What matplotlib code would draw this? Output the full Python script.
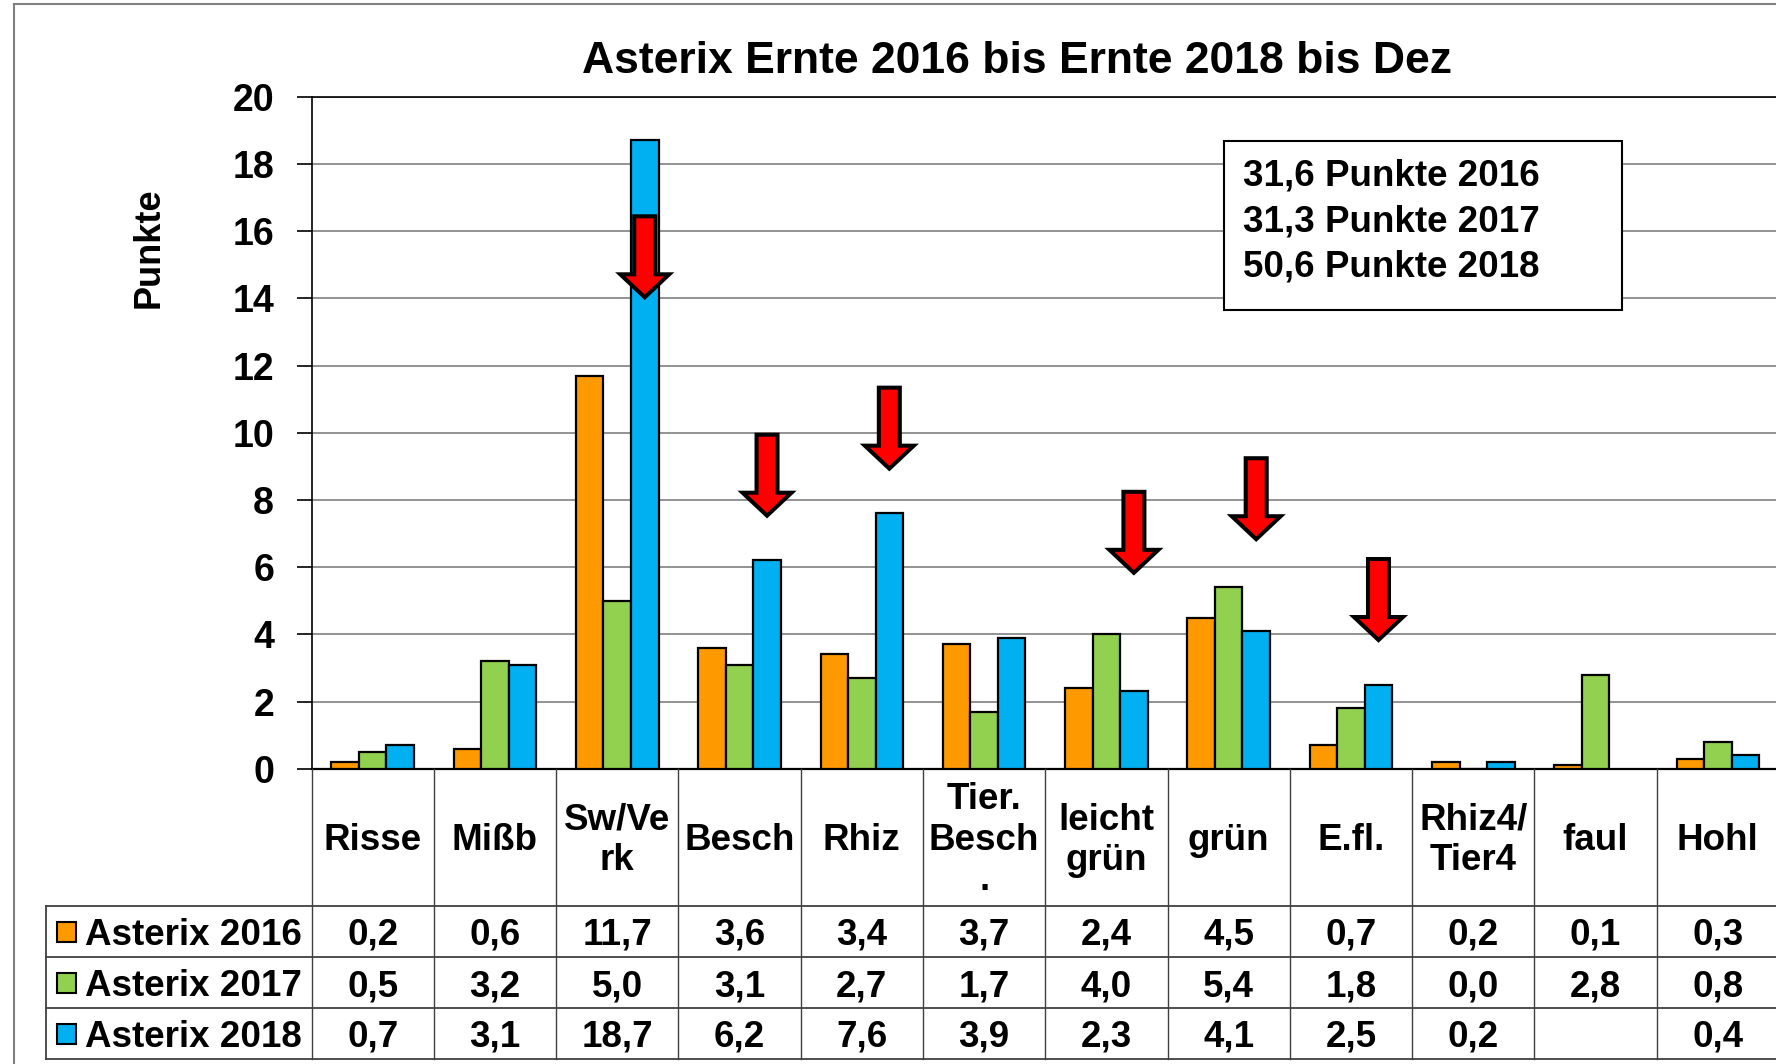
import matplotlib
matplotlib.use("Agg")
import matplotlib.pyplot as plt
from matplotlib.patches import Rectangle, Polygon
from matplotlib.lines import Line2D

# ---------------- data ----------------
categories = ["Risse", "Mißb", "Sw/Ve\nrk", "Besch", "Rhiz", "Tier.\nBesch\n.",
              "leicht\ngrün", "grün", "E.fl.", "Rhiz4/\nTier4", "faul", "Hohl"]
series_names = ["Asterix 2016", "Asterix 2017", "Asterix 2018"]
v2016 = [0.2, 0.6, 11.7, 3.6, 3.4, 3.7, 2.4, 4.5, 0.7, 0.2, 0.1, 0.3]
v2017 = [0.5, 3.2, 5.0, 3.1, 2.7, 1.7, 4.0, 5.4, 1.8, 0.0, 2.8, 0.8]
v2018 = [0.7, 3.1, 18.7, 6.2, 7.6, 3.9, 2.3, 4.1, 2.5, 0.2, None, 0.4]
series_colors = ["#FF9900", "#92D050", "#00B0F0"]
totals = [31.6, 31.3, 50.6]
total_years = [2016, 2017, 2018]
arrow_idx = [2, 3, 4, 6, 7, 8]
arrow_top = [16.5, 10.0, 11.4, 8.3, 9.3, 6.3]
yticks = list(range(0, 21, 2))
title = "Asterix Ernte 2016 bis Ernte 2018 bis Dez"
ylabel = "Punkte"

plt.rcParams['font.family'] = ['Liberation Sans', 'DejaVu Sans']
plt.rcParams['font.weight'] = 'bold'

W, H = 1776, 1064
fig = plt.figure(figsize=(W / 100, H / 100), dpi=100)
fig.patch.set_facecolor('white')

def fx(p):
    return p / W

def fy(p):
    return 1 - p / H

AX_L, AX_R, AX_T, AX_B = 311.5, 1779.0, 96.7, 768.7
ax = fig.add_axes([fx(AX_L), fy(AX_B), (AX_R - AX_L) / W, (AX_B - AX_T) / H])
ncat = len(categories)
pxu = (AX_R - AX_L) / ncat        # pixels per category unit
pyu = (AX_B - AX_T) / 20.0        # pixels per y unit

all_series = [v2016, v2017, v2018]
bw = 0.225
offsets = [-bw, 0.0, bw]
for vals, col, off in zip(all_series, series_colors, offsets):
    xs = [i + off for i, v in enumerate(vals) if v is not None]
    hs = [v for v in vals if v is not None]
    ax.bar(xs, hs, width=bw, color=col, edgecolor='black', linewidth=1.6, zorder=3)

ax.set_xlim(-0.5, ncat - 0.5)
ax.set_ylim(0, 20)
ax.set_yticks(yticks)
ax.set_xticks([])
ax.yaxis.grid(True, color='#808080', linewidth=1.2)
ax.set_axisbelow(True)
ax.spines['right'].set_visible(False)
ax.spines['left'].set_linewidth(1.2)
ax.spines['top'].set_linewidth(1.2)
ax.spines['bottom'].set_linewidth(1.6)
ax.tick_params(axis='y', direction='out', length=11, width=1.2, pad=16, labelsize=27)
for lbl in ax.get_yticklabels():
    lbl.set_fontweight('bold')

# arrows (annotations over the 2018 bars)
for i, T in zip(arrow_idx, arrow_top):
    c = i + bw
    top = T - 2 / pyu
    hs_ = 10.5 / pxu
    hh = 24.5 / pxu
    base = T - 60 / pyu
    tip = T - 83 / pyu
    poly = [(c - hs_, top), (c + hs_, top), (c + hs_, base), (c + hh, base),
            (c, tip), (c - hh, base), (c - hs_, base)]
    ax.add_patch(Polygon(poly, closed=True, facecolor='#FF0000', edgecolor='black',
                         linewidth=2.9, joinstyle='miter', zorder=6, clip_on=False))

# ---------------- data table ----------------
TB = 1059.0
tab = fig.add_axes([fx(AX_L), fy(TB), (AX_R - AX_L) / W, (TB - AX_B) / H])
tab.set_xlim(-0.5, ncat - 0.5)
tab.set_ylim(TB - AX_B, 0)
tab.axis('off')

def ux(p):
    return (p - AX_L) / pxu - 0.5

def uy(p):
    return p - AX_B

row_lines = [906.0, 957.0, 1008.0, 1059.0]
lc = '#404040'
left_x = ux(46)
for r in row_lines:
    tab.plot([left_x, ncat - 0.5], [uy(r), uy(r)], color=lc, lw=1.3, clip_on=False)
tab.plot([left_x, left_x], [uy(906), uy(1059)], color=lc, lw=1.3, clip_on=False)
for k in range(ncat + 1):
    tab.plot([k - 0.5, k - 0.5], [0, uy(1059)], color=lc, lw=1.0, clip_on=False)

fs = 26.5
hdr_c = uy(906) / 2 + 3
for i, cat in enumerate(categories):
    tab.text(i, hdr_c, cat, ha='center', va='center', fontsize=fs,
             fontweight='bold', linespacing=1.2)

def fmt(v):
    return f"{v:.1f}".replace('.', ',')

for r, (name, vals, col) in enumerate(zip(series_names, all_series, series_colors)):
    rc = uy((row_lines[r] + row_lines[r + 1]) / 2)
    tab.add_patch(Rectangle((ux(57.4), rc - 10), ux(76.4) - ux(57.4), 20,
                            facecolor=col, edgecolor='black', lw=1.5, clip_on=False))
    tab.text(ux(85), rc, name, ha='left', va='center_baseline', fontsize=fs,
             fontweight='bold', clip_on=False)
    for i, v in enumerate(vals):
        if v is None:
            continue
        tab.text(i, rc, fmt(v), ha='center', va='center_baseline', fontsize=fs,
                 fontweight='bold')

# ---------------- figure decorations ----------------
fig.add_artist(Line2D([fx(13.8), fx(13.8)], [fy(4.3), 0], color='#808080', lw=1.5))
fig.add_artist(Line2D([fx(13.8), 1], [fy(4.3), fy(4.3)], color='#808080', lw=1.5))

fig.text(fx(1017), fy(72.7), title, ha='center', va='baseline', fontsize=32,
         fontweight='bold')
fig.text(fx(149), fy(248), ylabel, rotation=90, ha='center', va='center',
         fontsize=26, fontweight='bold')

fig.add_artist(Rectangle((fx(1224), fy(310)), (1622 - 1224) / W, (310 - 141) / H,
                         transform=fig.transFigure, facecolor='white',
                         edgecolor='black', lw=1.5, zorder=10))
for t, yr, yb in zip(totals, total_years, [185.7, 231.7, 276.0]):
    fig.text(fx(1243), fy(yb), f"{fmt(t)} Punkte {yr}", ha='left', va='baseline',
             fontsize=fs, fontweight='bold', zorder=11)

fig.savefig("out.png", dpi=100)
